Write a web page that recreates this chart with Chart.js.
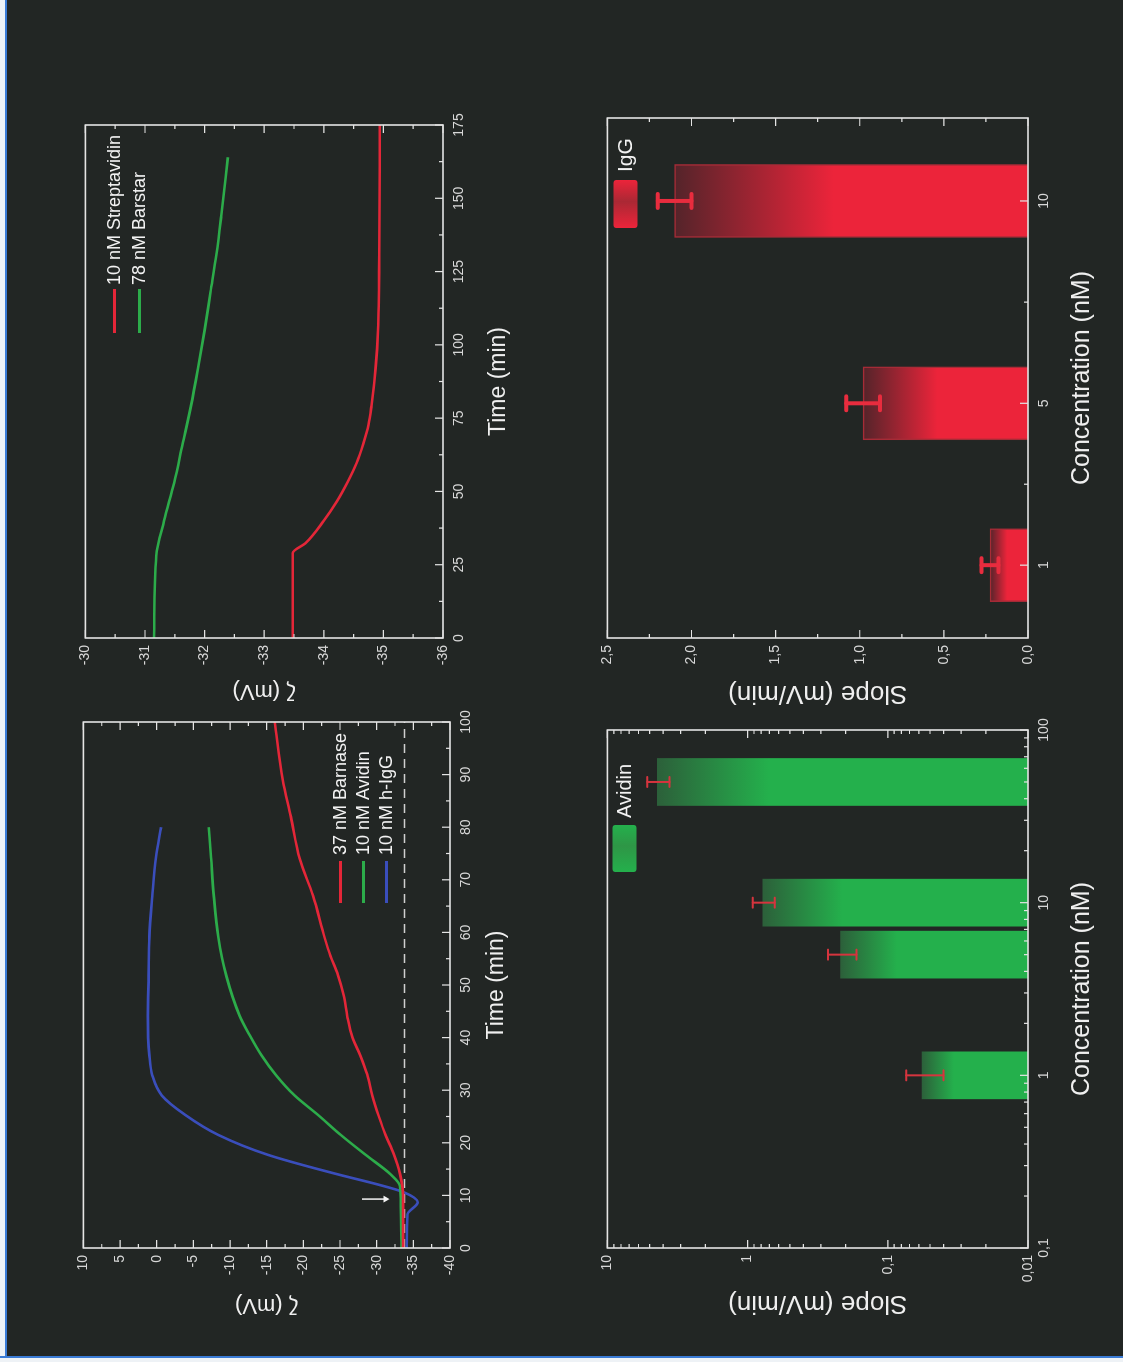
<!DOCTYPE html>
<html>
<head>
<meta charset="utf-8">
<script src="https://cdn.jsdelivr.net/npm/chart.js@4.4.1/dist/chart.umd.min.js"></script>
<style>
  html, body { margin: 0; padding: 0; width: 1123px; height: 1362px; overflow: hidden; background: #222624; }
  /* the figure is laid out upright and turned a quarter turn, like the scan */
  #fig { position: absolute; left: 0; top: 1362px; width: 1362px; height: 1123px;
         transform-origin: 0 0; transform: rotate(-90deg); background: #222624; }
  #fig canvas { position: absolute; }
  .strip { position: absolute; }
</style>
</head>
<body>
<div id="fig">
  <div class="strip" style="left:0;top:0;width:1362px;height:5px;background:#eef2f6"></div>
  <div class="strip" style="left:0;top:5px;width:1362px;height:2px;background:#3a7bd5"></div>
  <div class="strip" style="left:0;top:0;width:4px;height:1123px;background:#eef2f6"></div>
  <div class="strip" style="left:4px;top:0;width:2px;height:1123px;background:#3a7bd5"></div>
  <canvas id="chartA" width="641" height="452" style="left:24px;top:68px"></canvas>
  <canvas id="chartB" width="628" height="443" style="left:634px;top:70px"></canvas>
  <canvas id="chartD" width="633" height="506" style="left:24px;top:592px"></canvas>
  <canvas id="chartC" width="635" height="506" style="left:634px;top:592px"></canvas>
</div>
<script>
// ---- panel A : zeta potential vs time ----
const timeBarnase = [0, 10, 14, 18, 21.5, 25, 29, 33, 36.5, 40, 44, 48, 52, 55.5, 59, 67, 74, 82, 89, 100];
const zetaBarnase = [-33.6, -33.6, -33.2, -32.3, -31.2, -30.3, -29.4, -28.7, -27.8, -26.7, -26.0, -25.5, -24.7, -23.7, -22.9, -21.3, -19.5, -18.3, -17.2, -16.1];
const timeAvidin = [0, 8, 11.7, 14, 17.7, 21.5, 25.3, 29, 32.8, 36.6, 40.4, 44.2, 51.7, 59.2, 66.8, 74.3, 80];
const zetaAvidin = [-33.4, -33.3, -33.2, -31.9, -28.5, -25.1, -22.0, -18.8, -16.3, -14.3, -12.7, -11.3, -9.5, -8.4, -7.8, -7.4, -7.1];
const timeIgG = [0, 6.4, 8.7, 10.6, 12.1, 14, 17.7, 21.5, 25.3, 29, 32.8, 36.6, 44.2, 51.7, 59.2, 66.8, 74.3, 80];
const zetaIgG = [-34.1, -34.2, -35.6, -33.7, -30.1, -24.7, -15.2, -8.4, -3.9, -0.7, 0.6, 1.0, 1.2, 1.1, 1.0, 0.6, 0.1, -0.6];
const baselineTime = [0, 100];
const baselineZeta = [-33.8, -33.8];
const arrowTime = [9.3, 9.3];
const arrowZeta = [-28.0, -31.2];
const labelsA = ['37 nM Barnase', '10 nM Avidin', '10 nM h-IgG'];

// ---- panel B ----
const timeStrep = [0, 29, 32.3, 40, 46.6, 53.2, 59.7, 66.2, 72.7, 79.2, 92.2, 105, 131, 175];
const zetaStrep = [-33.48, -33.48, -33.69, -34.0, -34.22, -34.40, -34.55, -34.66, -34.75, -34.80, -34.87, -34.91, -34.93, -34.94];
const timeBarstar = [0, 28, 40, 53, 66, 79, 92, 105, 118, 131, 144, 164];
const zetaBarstar = [-31.15, -31.19, -31.32, -31.49, -31.63, -31.77, -31.89, -32.0, -32.1, -32.2, -32.28, -32.39];
const labelsB = ['10 nM Streptavidin', '78 nM Barstar'];

// ---- panel D : Avidin slopes (log-log) ----
const concAvidin = [1, 5, 10, 50];
const slopeAvidin = [0.057, 0.217, 0.78, 4.4];
const errAvidin = [0.017, 0.05, 0.14, 0.8];

// ---- panel C : IgG slopes ----
const concIgG = [1, 5, 10];
const slopeIgG = [0.226, 0.98, 2.10];
const errIgG = [0.05, 0.1, 0.1];
const iggMajorTicks = [1, 5, 10];
const iggMinorTicks = [3, 7.5];

const RED = 'rgb(228,38,56)';
const GREEN = 'rgb(44,172,74)';
const BLUE = 'rgb(58,78,188)';
const BAR_RED = 'rgb(236,36,58)';
const BAR_RED_DARK = 'rgb(84,36,42)';
const BAR_GREEN = 'rgb(36,176,76)';
const BAR_GREEN_DARK = 'rgb(44,96,58)';
const FRAME = '#e4e4e4';
const FONT = '"Liberation Sans", Arial, Helvetica, sans-serif';

Chart.defaults.font.family = FONT;
Chart.defaults.color = '#d8d8d8';
Chart.defaults.animation = false;

const pts = (xs, ys) => xs.map((x, i) => ({ x: x, y: ys[i] }));
const comma = v => String(+v.toPrecision(3)).replace('.', ',');
const isPow10 = v => Math.abs(Math.log10(v) - Math.round(Math.log10(v))) < 1e-9;

function logTicks(lo, hi) {
  const out = [];
  for (let e = Math.round(Math.log10(lo)); e < Math.round(Math.log10(hi)); e++) {
    for (let m = 1; m < 10; m++) out.push({ value: +(m * Math.pow(10, e)).toPrecision(3) });
  }
  out.push({ value: hi });
  return out;
}

// frame around the plot plus inward tick marks (long = labelled, short = minor)
const frameTicks = {
  id: 'frameTicks',
  afterDatasetsDraw(chart) {
    const { ctx, chartArea: a, scales } = chart;
    ctx.save();
    ctx.strokeStyle = FRAME;
    ctx.lineWidth = 1.2;
    ctx.beginPath();
    scales.x.ticks.forEach(t => {
      const p = scales.x.getPixelForValue(t.value);
      const len = t.label ? 8 : 4;
      ctx.moveTo(p, a.bottom); ctx.lineTo(p, a.bottom - len);
    });
    scales.y.ticks.forEach(t => {
      const p = scales.y.getPixelForValue(t.value);
      const len = t.label ? 8 : 4;
      ctx.moveTo(a.left, p); ctx.lineTo(a.left + len, p);
      ctx.moveTo(a.right, p); ctx.lineTo(a.right - len, p);
    });
    ctx.stroke();
    ctx.lineWidth = 1.6;
    ctx.strokeRect(a.left, a.top, a.right - a.left, a.bottom - a.top);
    ctx.restore();
  }
};

// legend drawn inside the plot area
const insideLegend = {
  id: 'insideLegend',
  afterDraw(chart, args, o) {
    if (!o || !o.kind) return;
    const { ctx, chartArea: a } = chart;
    ctx.save();
    ctx.font = o.size + 'px ' + FONT;
    ctx.textBaseline = 'middle';
    ctx.fillStyle = '#f2f2f2';
    let row = 0;
    chart.data.datasets.forEach(ds => {
      if (!ds.label) return;
      const x = a.left + o.x;
      const y = a.top + o.y + row * o.row;
      if (o.kind === 'line') {
        ctx.strokeStyle = ds.borderColor;
        ctx.lineWidth = 3;
        ctx.beginPath(); ctx.moveTo(x, y); ctx.lineTo(x + o.w, y); ctx.stroke();
      } else {
        const g = ctx.createLinearGradient(x, 0, x + o.w, 0);
        g.addColorStop(0, o.bright); g.addColorStop(0.55, o.mid); g.addColorStop(1, o.bright);
        ctx.fillStyle = g;
        ctx.beginPath(); ctx.roundRect(x, y - o.h / 2, o.w, o.h, 3); ctx.fill();
        ctx.fillStyle = '#f2f2f2';
      }
      ctx.fillText(ds.label, x + o.w + o.gap, y + 1);
      row++;
    });
    ctx.restore();
  }
};

// error bars on the bar panels
const errorBars = {
  id: 'errorBars',
  afterDatasetsDraw(chart, args, o) {
    if (!o || !o.err) return;
    const { ctx, scales: { x, y } } = chart;
    const data = chart.data.datasets[0].data;
    ctx.save();
    ctx.strokeStyle = o.color;
    ctx.lineCap = 'round';
    data.forEach((p, i) => {
      const px = x.getPixelForValue(p.x);
      const lo = y.getPixelForValue(p.y - o.err[i]);
      const hi = y.getPixelForValue(p.y + o.err[i]);
      ctx.lineWidth = o.width;
      ctx.beginPath(); ctx.moveTo(px, lo); ctx.lineTo(px, hi); ctx.stroke();
      ctx.lineWidth = o.capWidth;
      ctx.beginPath();
      ctx.moveTo(px - o.cap, lo); ctx.lineTo(px + o.cap, lo);
      ctx.moveTo(px - o.cap, hi); ctx.lineTo(px + o.cap, hi);
      ctx.stroke();
    });
    ctx.restore();
  }
};

function barFill(dark, bright, reach) {
  return function (c) {
    const chart = c.chart;
    if (!chart.chartArea || !c.parsed) return bright;
    const ys = chart.scales.y;
    const top = ys.getPixelForValue(c.parsed.y);
    const g = chart.ctx.createLinearGradient(0, top, 0, ys.bottom);
    g.addColorStop(0, dark);
    g.addColorStop(reach, bright);
    g.addColorStop(1, bright);
    return g;
  };
}

function axis(o) {
  const a = {
    type: o.type || 'linear',
    min: o.min, max: o.max,
    offset: false,
    grid: { display: false, drawTicks: false, offset: false },
    border: { display: false },
    ticks: {
      stepSize: o.step, autoSkip: false, maxRotation: 0, minRotation: 0,
      padding: o.axis === 'x' ? 8 : 7,
      color: '#d8d8d8', font: { size: 14 },
      callback: o.label
    },
    afterFit: s => { if (o.axis === 'x') s.height = 70; else s.width = 90; },
    title: {
      display: true, text: o.title, color: '#efefef',
      font: { size: o.titleSize },
      padding: o.axis === 'x' ? { top: 0, bottom: o.titlePad } : { top: o.titlePad, bottom: 0 }
    }
  };
  if (o.ticks) a.afterBuildTicks = s => { s.ticks = o.ticks(); };
  return a;
}

const lineDs = (label, xs, ys, color) => ({
  label: label, data: pts(xs, ys), borderColor: color, borderWidth: 2.6,
  pointRadius: 0, cubicInterpolationMode: 'monotone', fill: false
});

// panel A
new Chart(document.getElementById('chartA'), {
  type: 'line',
  data: {
    datasets: [
      lineDs(labelsA[0], timeBarnase, zetaBarnase, RED),
      lineDs(labelsA[1], timeAvidin, zetaAvidin, GREEN),
      lineDs(labelsA[2], timeIgG, zetaIgG, BLUE),
      { data: pts(baselineTime, baselineZeta), borderColor: '#cfcfcf', borderWidth: 1.6,
        borderDash: [9, 6], pointRadius: 0 },
      { data: pts(arrowTime, arrowZeta), borderColor: '#f4f4f4', borderWidth: 1.5,
        pointRadius: [0, 4], pointStyle: 'triangle', rotation: 180,
        pointBackgroundColor: '#f4f4f4', pointBorderWidth: 0 }
    ]
  },
  options: {
    responsive: false,
    layout: { padding: { top: 15, right: 25, left: 0, bottom: 0 }, autoPadding: false },
    plugins: {
      legend: { display: false }, tooltip: { enabled: false },
      insideLegend: { kind: 'line', x: 345, y: 257, row: 23, w: 42, gap: 6, size: 18 }
    },
    scales: {
      x: axis({ axis: 'x', min: 0, max: 100, step: 5, label: v => v % 10 === 0 ? String(v) : '',
                title: 'Time (min)', titleSize: 23, titlePad: 10 }),
      y: axis({ axis: 'y', min: -40, max: 10, step: 2.5, label: v => v % 5 === 0 ? String(v) : '',
                title: 'ζ (mV)', titleSize: 22, titlePad: 20 })
    }
  },
  plugins: [frameTicks, insideLegend]
});

// panel B
new Chart(document.getElementById('chartB'), {
  type: 'line',
  data: {
    datasets: [
      lineDs(labelsB[0], timeStrep, zetaStrep, RED),
      lineDs(labelsB[1], timeBarstar, zetaBarstar, GREEN)
    ]
  },
  options: {
    responsive: false,
    layout: { padding: { top: 15, right: 25, left: 0, bottom: 0 }, autoPadding: false },
    plugins: {
      legend: { display: false }, tooltip: { enabled: false },
      insideLegend: { kind: 'line', x: 305, y: 29, row: 25, w: 44, gap: 4, size: 18 }
    },
    scales: {
      x: axis({ axis: 'x', min: 0, max: 175, step: 12.5, label: v => v % 25 === 0 ? String(v) : '',
                title: 'Time (min)', titleSize: 23, titlePad: 1 }),
      y: axis({ axis: 'y', min: -36, max: -30, step: 0.5, label: v => Number.isInteger(v) ? String(v) : '',
                title: 'ζ (mV)', titleSize: 22, titlePad: 24 })
    }
  },
  plugins: [frameTicks, insideLegend]
});

// panel D : Avidin
new Chart(document.getElementById('chartD'), {
  type: 'bar',
  data: {
    datasets: [{
      label: 'Avidin', data: pts(concAvidin, slopeAvidin),
      backgroundColor: barFill(BAR_GREEN_DARK, BAR_GREEN, 0.3),
      borderWidth: 0, barThickness: 47
    }]
  },
  options: {
    responsive: false,
    layout: { padding: { top: 15, right: 25, left: 0, bottom: 0 }, autoPadding: false },
    plugins: {
      legend: { display: false }, tooltip: { enabled: false },
      insideLegend: { kind: 'box', x: 376, y: 17, row: 0, w: 47, h: 24, gap: 7, size: 20,
                      bright: BAR_GREEN, mid: 'rgb(46,150,70)' },
      errorBars: { err: errAvidin, color: 'rgb(214,52,62)', width: 2, capWidth: 2, cap: 5 }
    },
    scales: {
      x: axis({ axis: 'x', type: 'logarithmic', min: 0.1, max: 100, ticks: () => logTicks(0.1, 100),
                label: v => isPow10(v) ? comma(v) : '',
                title: 'Concentration (nM)', titleSize: 25, titlePad: 1 }),
      y: axis({ axis: 'y', type: 'logarithmic', min: 0.01, max: 10, ticks: () => logTicks(0.01, 10),
                label: v => isPow10(v) ? comma(v) : '',
                title: 'Slope (mV/min)', titleSize: 26, titlePad: 19 })
    }
  },
  plugins: [frameTicks, errorBars, insideLegend]
});

// panel C : IgG
new Chart(document.getElementById('chartC'), {
  type: 'bar',
  data: {
    datasets: [{
      label: 'IgG', data: pts(concIgG, slopeIgG),
      backgroundColor: barFill(BAR_RED_DARK, BAR_RED, 0.45),
      borderColor: 'rgba(210,44,60,0.75)', borderWidth: 1.5, barThickness: 73
    }]
  },
  options: {
    responsive: false,
    layout: { padding: { top: 15, right: 25, left: 0, bottom: 0 }, autoPadding: false },
    plugins: {
      legend: { display: false }, tooltip: { enabled: false },
      insideLegend: { kind: 'box', x: 410, y: 18, row: 0, w: 48, h: 24, gap: 8, size: 21,
                      bright: BAR_RED, mid: 'rgb(170,40,52)' },
      errorBars: { err: errIgG, color: 'rgb(232,44,62)', width: 4, capWidth: 4, cap: 7 }
    },
    scales: {
      x: axis({ axis: 'x', min: -0.8, max: 12.05,
                ticks: () => iggMajorTicks.concat(iggMinorTicks).sort((p, q) => p - q).map(v => ({ value: v })),
                label: v => iggMajorTicks.includes(v) ? String(v) : '',
                title: 'Concentration (nM)', titleSize: 25, titlePad: 1 }),
      y: axis({ axis: 'y', min: 0, max: 2.5, step: 0.25,
                label: v => Number.isInteger(v * 2) ? v.toFixed(1).replace('.', ',') : '',
                title: 'Slope (mV/min)', titleSize: 26, titlePad: 19 })
    }
  },
  plugins: [frameTicks, errorBars, insideLegend]
});
</script>
</body>
</html>
